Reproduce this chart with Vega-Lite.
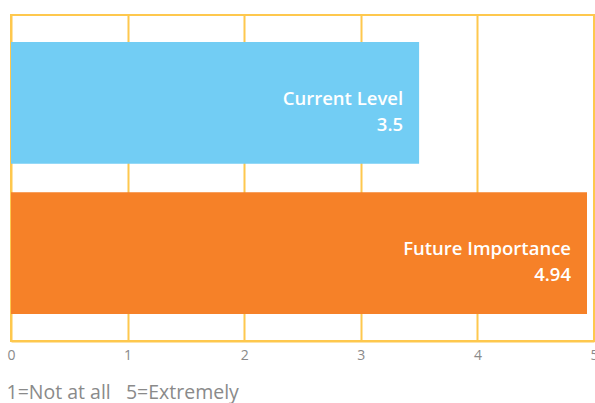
{
  "$schema": "https://vega.github.io/schema/vega-lite/v6.json",
  "width": 583,
  "height": 326,
  "autosize": "none",
  "padding": {"left": 11, "top": 15, "right": 1, "bottom": 62},
  "background": "white",
  "data": {"values": [
    {"series": "Current Level", "value": 3.5, "label": "Current Level\n3.5"},
    {"series": "Future Importance", "value": 4.94, "label": "Future Importance\n4.94"}
  ]},
  "config": {
    "view": {"stroke": "#FEC84E", "strokeWidth": 2},
    "font": "Open Sans"
  },
  "encoding": {
    "y": {"field": "series", "type": "nominal", "sort": null,
      "scale": {"paddingInner": 0.19, "paddingOuter": 0.18},
      "axis": null},
    "x": {"field": "value", "type": "quantitative",
      "scale": {"domain": [0, 5], "nice": false},
      "axis": {
        "values": [0, 1, 2, 3, 4, 5],
        "format": "d",
        "grid": true, "gridColor": "#FEC84E", "gridWidth": 2, "gridOpacity": 1,
        "domain": true, "domainColor": "#FEC84E", "domainWidth": 2,
        "ticks": false,
        "labelColor": "#8a8a8a", "labelFontSize": 14, "labelPadding": 7,
        "labelFont": "Open Sans", "labelFlush": false, "labelBound": false,
        "title": "1=Not at all\u00a0\u00a0\u00a05=Extremely",
        "titleFont": "Open Sans", "titleFontWeight": "normal", "titleFontSize": 19.5,
        "titleColor": "#8a8a8a", "titleAlign": "left", "titleAnchor": "start",
        "titleBaseline": "alphabetic", "titleX": -5, "titleY": 57
      }
    }
  },
  "layer": [
    {"mark": {"type": "bar"},
     "encoding": {
       "color": {"field": "series", "type": "nominal",
         "scale": {"domain": ["Current Level", "Future Importance"], "range": ["#72CDF4", "#F68128"]},
         "legend": null}
     }},
    {"mark": {"type": "text", "align": "right", "baseline": "middle", "dx": -16, "dy": -4,
      "lineBreak": "\n", "lineHeight": 26, "fontSize": 18.5, "fontWeight": 600, "color": "white"},
     "encoding": {"text": {"field": "label"}}}
  ]
}
